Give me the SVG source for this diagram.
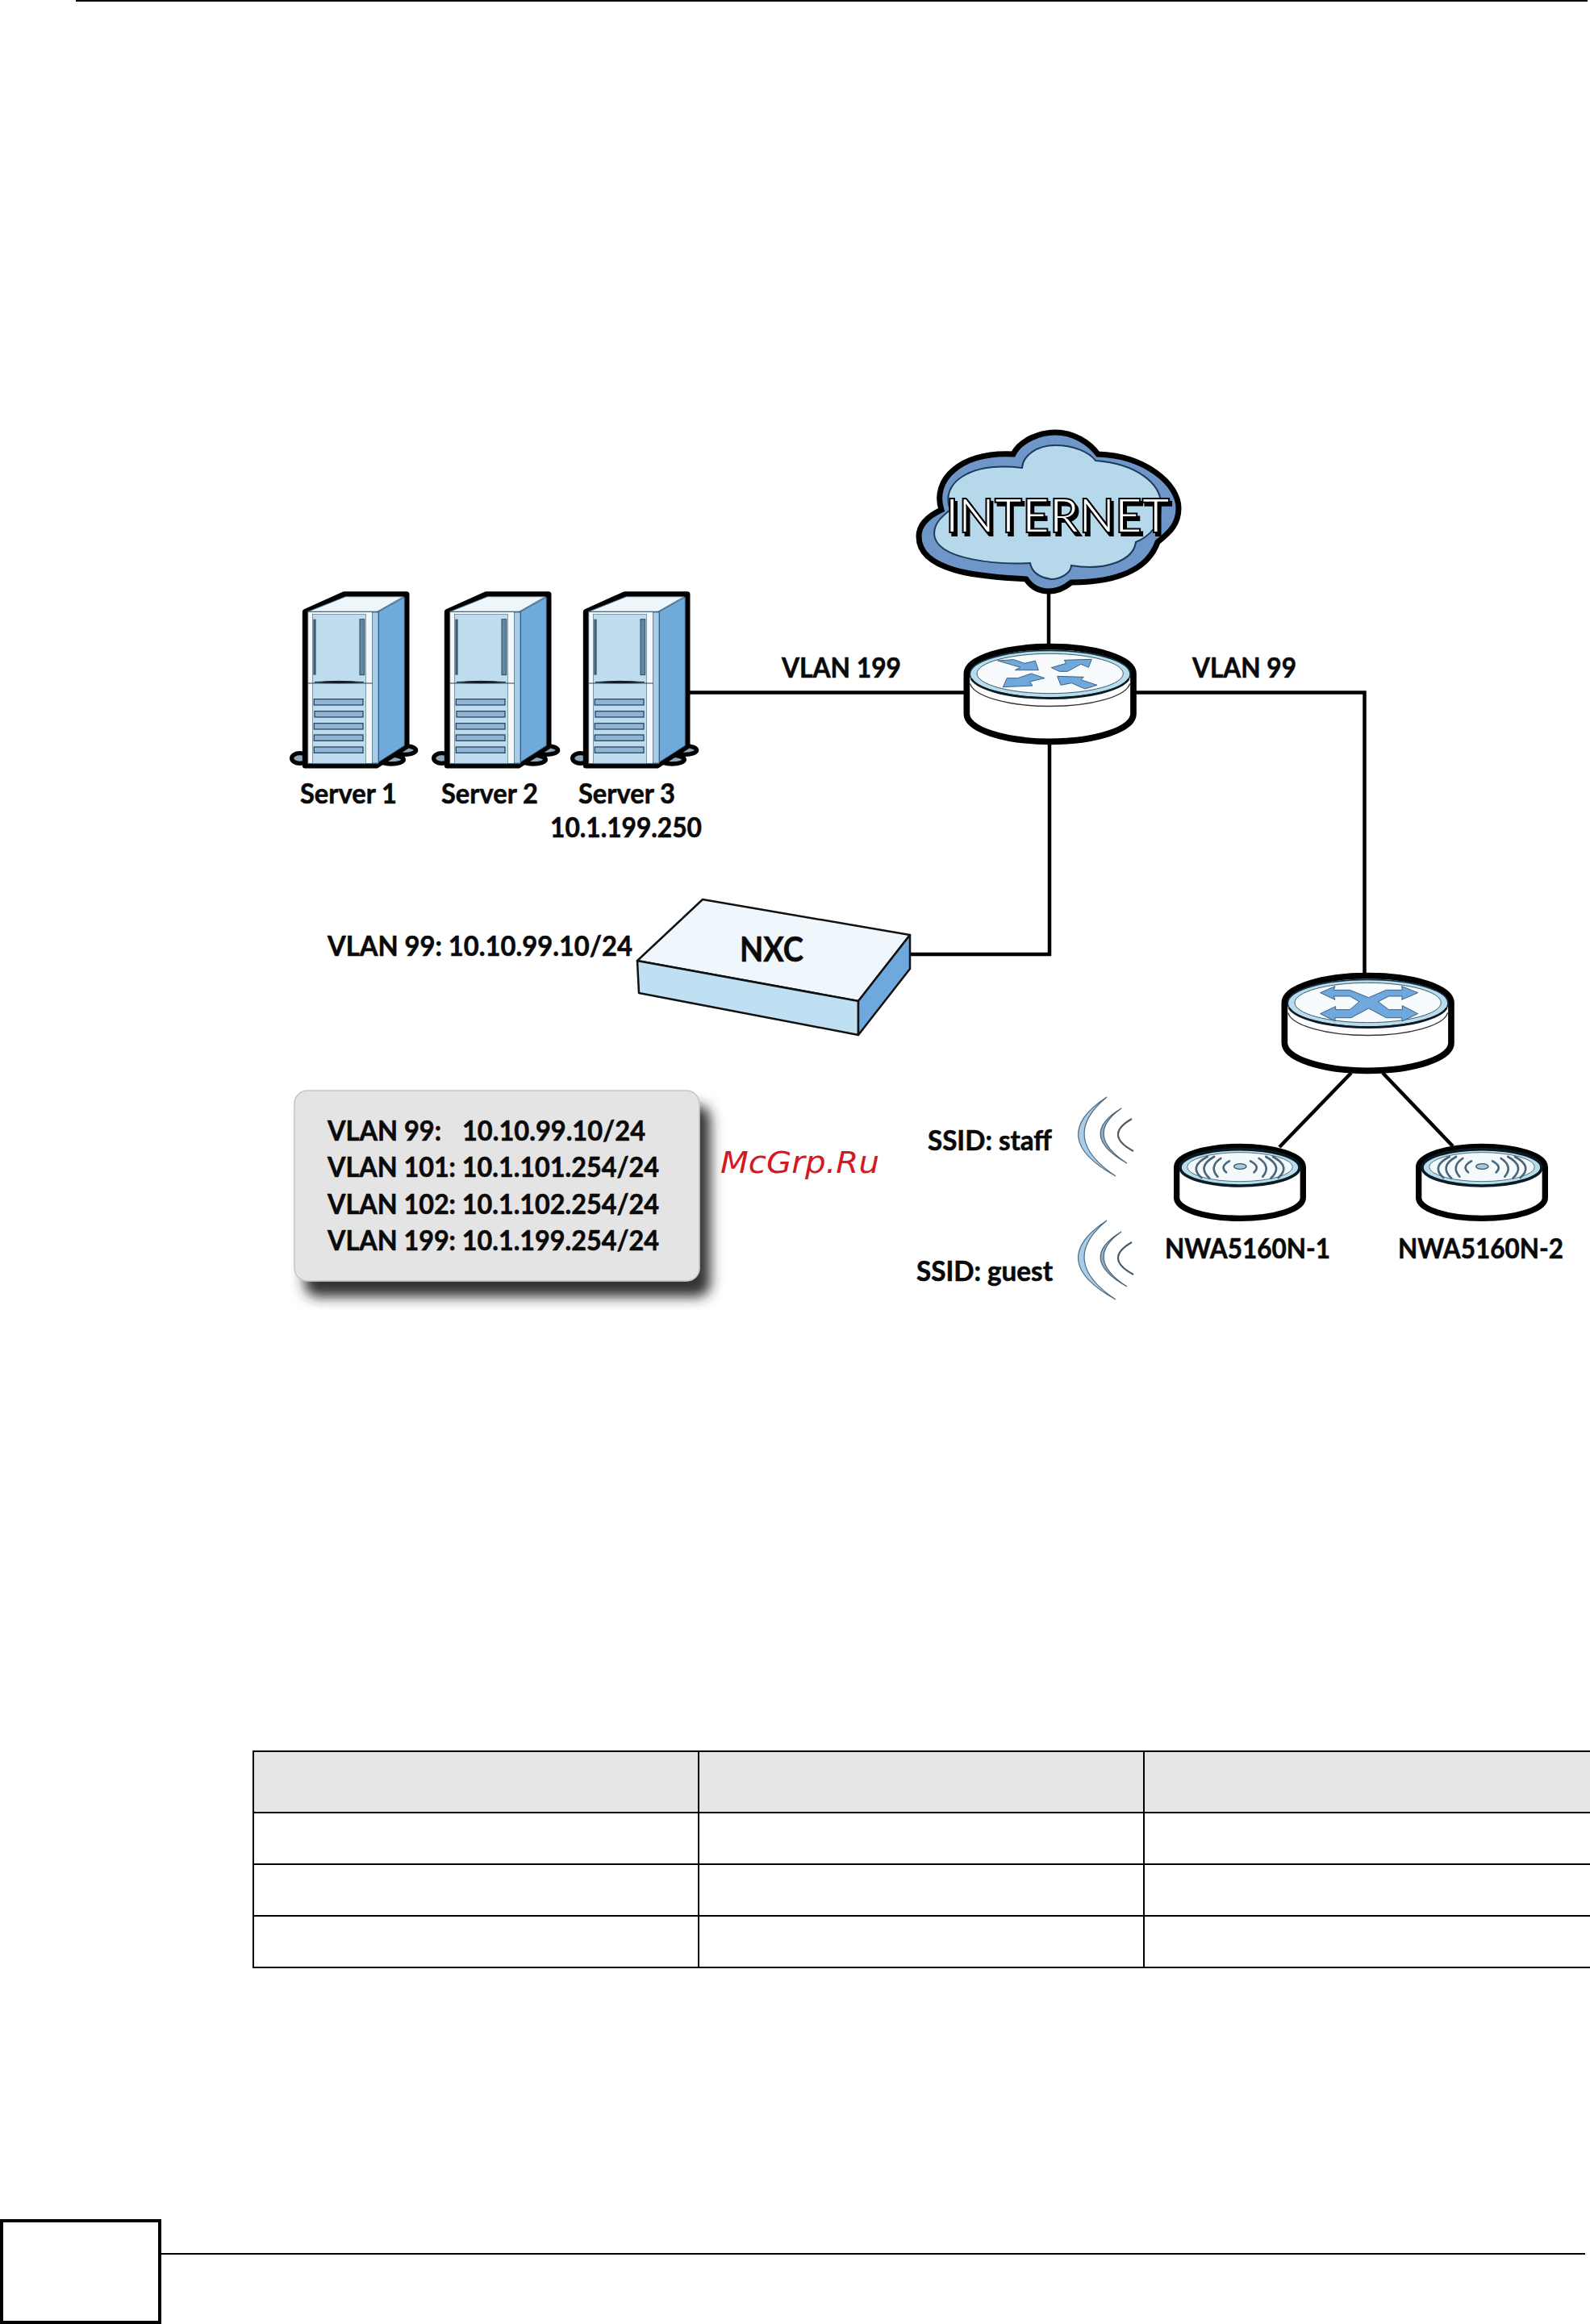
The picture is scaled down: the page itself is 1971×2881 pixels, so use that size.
<svg xmlns="http://www.w3.org/2000/svg" xmlns:xlink="http://www.w3.org/1999/xlink" width="1971" height="2881" viewBox="0 0 1971 2881">
<style>
text{font-family:"Lato","Liberation Sans",sans-serif;font-weight:700;fill:#0a0a0a;font-size:35px;stroke:#0a0a0a;stroke-width:.6}
.conn{fill:none;stroke:#000;stroke-width:4.5}
.page{fill:none;stroke:#000;stroke-width:2}
.arrow{fill:#6ea8dc;stroke:#3d5f80;stroke-width:3;stroke-linejoin:round}
.wl{fill:none;stroke:#4c6678;stroke-width:8;stroke-linecap:round}
</style>
<defs>
<filter id="panelShadow" x="-10%" y="-10%" width="130%" height="140%"><feDropShadow dx="13" dy="19" stdDeviation="8" flood-color="#282828" flood-opacity=".95"/></filter>
<filter id="netShadow" x="-5%" y="-20%" width="110%" height="150%"><feDropShadow dx="3" dy="4" stdDeviation=".4" flood-color="#000"/></filter>
<g id="puck">
<path d="M25 135A310 100 0 0 1 645 135V285A310 103 0 0 1 25 285Z" fill="#fff" stroke="#000" stroke-width="23"/>
<path d="M38 172A298 92 0 0 0 632 172" fill="none" stroke="#333" stroke-width="4"/>
<ellipse cx="335" cy="137" rx="298" ry="88" fill="#b8dcec" stroke="#16303f" stroke-width="5"/>
<path d="M42 155A298 88 0 0 0 628 155" fill="none" stroke="#0c1a24" stroke-width="8"/>
<ellipse cx="335" cy="135" rx="272" ry="74" fill="#f7fbfd" stroke="#3c5a6c" stroke-width="3"/>
</g>
<g id="ap">
<path d="M26 110A235 76 0 0 1 496 110V225A235 76 0 0 1 26 225Z" fill="#fff" stroke="#000" stroke-width="22"/>
<ellipse cx="261" cy="112" rx="222" ry="68" fill="#b8dcec" stroke="#0c1a24" stroke-width="11"/>
<ellipse cx="261" cy="110" rx="196" ry="54" fill="#f4f9fc" stroke="#51707f" stroke-width="3"/>
<ellipse cx="262" cy="108" rx="23" ry="10" fill="#a9c9dd" stroke="#3a5568" stroke-width="4"/>
<path class="wl" d="M222 88Q185 108 210 130M300 88Q338 108 314 130M190 78Q145 108 178 146M332 78Q378 108 346 146M165 72Q100 108 148 152M358 72Q424 108 376 152M140 72Q70 108 118 150M384 72Q452 108 404 150"/>
</g>
<g id="server">
<ellipse cx="35" cy="645" rx="30" ry="19" fill="#8fa9bb" stroke="#000" stroke-width="16"/>
<ellipse cx="425" cy="615" rx="42" ry="16" fill="#8fa9bb" stroke="#000" stroke-width="16"/>
<ellipse cx="375" cy="650" rx="46" ry="16" fill="#8fa9bb" stroke="#000" stroke-width="16"/>
<path d="M55 100L200 35H432V600L320 672H55Z" fill="#fff" stroke="#000" stroke-width="21" stroke-linejoin="round"/>
<path d="M65 100L205 44H420L322 100Z" fill="#eef6fb" stroke="#4a6f88" stroke-width="3"/>
<path d="M327 100L424 46V598L327 660Z" fill="#70aadb" stroke="#34566e" stroke-width="3"/>
<rect x="65" y="100" width="262" height="565" fill="#f2f8fc" stroke="#34566e" stroke-width="3"/>
<rect x="305" y="102" width="22" height="561" fill="#a8cde8" stroke="#34566e" stroke-width="2"/>
<rect x="82" y="110" width="198" height="554" fill="#bfdcee" stroke="#4a6f88" stroke-width="2"/>
<rect x="85" y="128" width="10" height="207" fill="#3f5d70"/>
<rect x="258" y="128" width="17" height="207" fill="#6487a0" stroke="#2f4a5c" stroke-width="3"/>
<path d="M65 366H305" stroke="#2a3f4e" stroke-width="3" fill="none"/>
<path d="M90 362Q180 354 272 362Q180 368 90 362Z" fill="#0c1a24" stroke="#0c1a24" stroke-width="3"/>
<g fill="#8fb4d6" stroke="#2f4a5e" stroke-width="4">
<rect x="88" y="425" width="182" height="22"/><rect x="90" y="470" width="180" height="22"/><rect x="88" y="515" width="182" height="22"/><rect x="88" y="558" width="182" height="22"/><rect x="88" y="603" width="182" height="22"/>
</g>
</g>
<g id="waves">
<path d="M1372 1360Q1296 1410 1383 1458Q1311 1410 1372 1360Z" fill="#a9cde8" stroke="#4a6a80" stroke-width="1.2"/>
<path d="M1390 1374Q1335 1407 1397 1442Q1343 1407 1390 1374Z" fill="#8fb0c8" stroke="#4a6274" stroke-width="1.2"/>
<path d="M1403 1387Q1368 1407 1405 1427" fill="none" stroke="#4a5a66" stroke-width="2.2"/>
</g>
</defs>
<rect width="1971" height="2881" fill="#fff"/>
<g id="page-frame">
<path class="page" d="M94 1H1968"/>
<rect x="2" y="2753" width="196" height="126" fill="#fff" stroke="#000" stroke-width="4"/>
<path class="page" d="M200 2794H1965"/>
</g>
<g id="connectors">
<path class="conn" d="M1300 730V800"/>
<path class="conn" d="M855 858.5H1198"/>
<path class="conn" d="M1405 858.5H1691.5V1210"/>
<path class="conn" d="M1301 920V1183H1126"/>
<path class="conn" d="M1675 1330L1586 1422"/>
<path class="conn" d="M1714 1330L1801 1421"/>
</g>
<g id="internet">
<path d="M1272 718C1240 715 1139 715 1139 665C1139 650 1150 640 1167 632C1155 595 1190 560 1256 563C1265 545 1290 536 1308 536C1330 536 1350 548 1361 563C1420 565 1461 600 1461 630C1461 650 1450 660 1435 672C1425 700 1395 722 1328 722C1322 727 1312 733 1300 733C1288 733 1278 727 1272 718Z" fill="#6e96c8" stroke="#000" stroke-width="7"/>
<path d="M1303 718C1290 716 1279 710 1277 698C1240 700 1160 695 1158 662C1158 648 1168 640 1178 632C1165 600 1200 572 1267 580C1268 565 1285 552 1308 552C1330 552 1350 560 1358 571C1410 575 1439 600 1439 625C1440 650 1425 665 1408 672C1405 695 1370 708 1328 701C1328 710 1315 718 1303 718Z" fill="#b5d8ea" stroke="#1d3a5a" stroke-width="2"/>
<text x="1172" y="660" textLength="278" lengthAdjust="spacingAndGlyphs" style="font-size:58px;font-weight:400;fill:#fff;stroke:#000;stroke-width:2" filter="url(#netShadow)">INTERNET</text>
</g>
<g id="router">
<use xlink:href="#puck" href="#puck" transform="translate(1190,790) scale(.3333)"/>
<g transform="translate(1190,790) scale(.3333)">
<path class="arrow" d="M140 87L200 83L240 97L280 88L292 122L205 122L225 112Z"/>
<path class="arrow" d="M340 113L395 97L388 85L490 82L478 112L450 100L400 127L370 127Z"/>
<path class="arrow" d="M160 185L175 152L215 152L265 135L315 152L260 165L270 180Z"/>
<path class="arrow" d="M362 145L460 148L450 158L510 178L465 192L415 170L375 178Z"/>
</g>
</g>
<g id="switch">
<use xlink:href="#puck" href="#puck" transform="translate(1584,1198) scale(.3333)"/>
<g transform="translate(1585,1200) scale(.3333)">
<path class="arrow" d="M155 92L210 68L205 82L265 82L335 110L400 82L460 82L458 68L518 92L458 118L460 105L410 105L370 125L410 155L460 155L460 140L518 170L460 198L458 185L400 185L335 150L270 185L210 185L210 198L155 170L212 143L212 155L265 155L300 125L265 105L205 105L210 118Z"/>
</g>
</g>
<g id="server-1"><use xlink:href="#server" href="#server" transform="translate(360,725) scale(.3333)"/>
<text x="372" y="996" textLength="120" lengthAdjust="spacingAndGlyphs">Server 1</text></g>
<g id="server-2"><use xlink:href="#server" href="#server" transform="translate(536,725) scale(.3333)"/>
<text x="547" y="996" textLength="120" lengthAdjust="spacingAndGlyphs">Server 2</text></g>
<g id="server-3"><use xlink:href="#server" href="#server" transform="translate(708,725) scale(.3333)"/>
<text x="717" y="996" textLength="120" lengthAdjust="spacingAndGlyphs">Server 3</text>
<text x="682" y="1038" textLength="188" lengthAdjust="spacingAndGlyphs">10.1.199.250</text></g>
<g id="labels">
<text x="969" y="840" textLength="148" lengthAdjust="spacingAndGlyphs">VLAN 199</text>
<text x="1478" y="840" textLength="129" lengthAdjust="spacingAndGlyphs">VLAN 99</text>
<text x="406" y="1185" textLength="378" lengthAdjust="spacingAndGlyphs">VLAN 99: 10.10.99.10/24</text>
</g>
<g id="nxc">
<path d="M871 1115L1128 1159L1064 1241L790 1191Z" fill="#f0f7fc" stroke="#111" stroke-width="2.5" stroke-linejoin="round"/>
<path d="M790 1191L1064 1241V1283L792 1231Z" fill="#bfdff2" stroke="#111" stroke-width="2.5" stroke-linejoin="round"/>
<path d="M1064 1241L1128 1159V1201L1064 1283Z" fill="#6ea8dc" stroke="#111" stroke-width="2.5" stroke-linejoin="round"/>
<text x="917" y="1192" textLength="79" lengthAdjust="spacingAndGlyphs" style="font-size:42px">NXC</text>
</g>
<g id="vlan-panel">
<rect x="365" y="1352" width="502" height="236" rx="16" fill="#e4e4e4" stroke="#c4c4c4" stroke-width="1.5" filter="url(#panelShadow)"/>
<text x="406" y="1414" textLength="141" lengthAdjust="spacingAndGlyphs">VLAN 99:</text>
<text x="573" y="1414" textLength="227" lengthAdjust="spacingAndGlyphs">10.10.99.10/24</text>
<text x="406" y="1459" textLength="411" lengthAdjust="spacingAndGlyphs">VLAN 101: 10.1.101.254/24</text>
<text x="406" y="1505" textLength="411" lengthAdjust="spacingAndGlyphs">VLAN 102: 10.1.102.254/24</text>
<text x="406" y="1550" textLength="411" lengthAdjust="spacingAndGlyphs">VLAN 199: 10.1.199.254/24</text>
</g>
<text id="watermark" x="893" y="1454" textLength="197" lengthAdjust="spacingAndGlyphs" style="font-family:'DejaVu Sans',sans-serif;font-style:italic;font-weight:400;font-size:38px;fill:#d11a24;stroke:none">McGrp.Ru</text>
<g id="ssid-staff"><use xlink:href="#waves" href="#waves"/>
<text x="1150" y="1426" textLength="154" lengthAdjust="spacingAndGlyphs">SSID: staff</text></g>
<g id="ssid-guest"><use xlink:href="#waves" href="#waves" transform="translate(0,153)"/>
<text x="1136" y="1588" textLength="169" lengthAdjust="spacingAndGlyphs">SSID: guest</text></g>
<g id="nwa-1"><use xlink:href="#ap" href="#ap" transform="translate(1450,1410) scale(.3333)"/>
<text x="1444" y="1560" textLength="205" lengthAdjust="spacingAndGlyphs">NWA5160N-1</text></g>
<g id="nwa-2"><use xlink:href="#ap" href="#ap" transform="translate(1750,1410) scale(.3333)"/>
<text x="1733" y="1560" textLength="205" lengthAdjust="spacingAndGlyphs">NWA5160N-2</text></g>
<g id="table">
<rect x="314" y="2171" width="1657" height="76" fill="#e5e5e5"/>
<path class="page" d="M314 2171H1971M314 2247H1971M314 2311H1971M314 2375H1971M314 2439H1971M314 2170V2440M866 2171V2439M1418 2171V2439"/>
</g>
</svg>
